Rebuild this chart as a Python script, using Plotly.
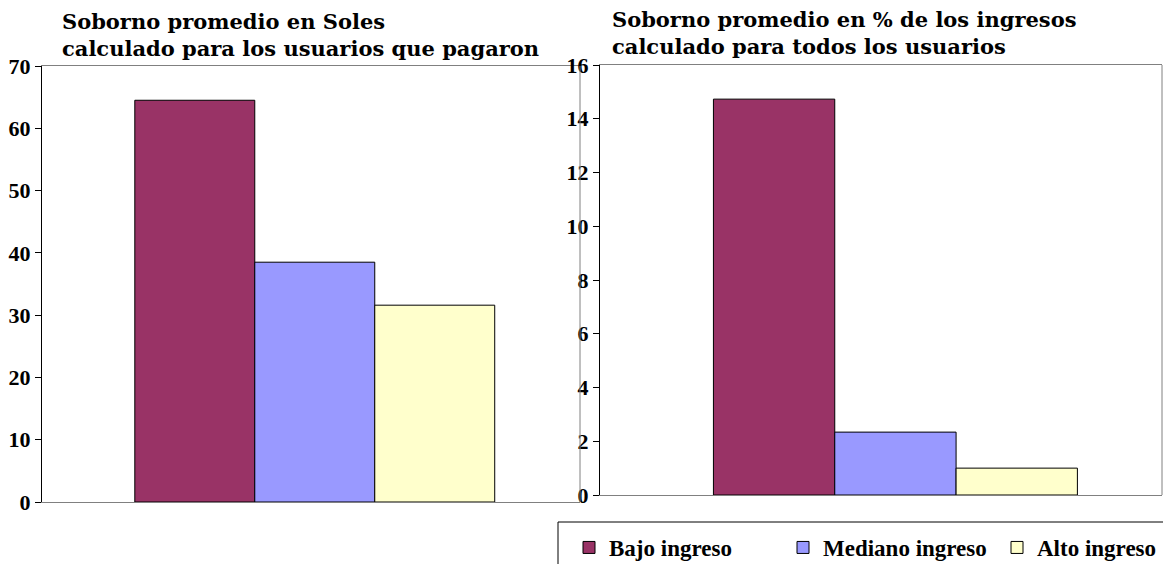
import plotly.graph_objects as go

# datos
categorias = ["Bajo ingreso", "Mediano ingreso", "Alto ingreso"]
colores = ["#993366", "#9999FF", "#FFFFCC"]
soles = [64.5, 38.5, 31.6]          # soborno promedio en soles (usuarios que pagaron)
porcentaje = [14.73, 2.34, 1.0]     # soborno promedio en % de ingresos (todos)

titulo_izq = "Soborno promedio en Soles<br>calculado para los usuarios que pagaron"
titulo_der = "Soborno promedio en % de los ingresos<br>calculado para todos los usuarios"

# la página deja 8 px de margen (body); las coordenadas de abajo son de pantalla
OFF = 8
W, H = 1171 - OFF, 564 - OFF
FONT = "Liberation Serif"
TITLE_FONT = "DejaVu Serif"

fig = go.Figure()

for nombre, color, v_s, v_p in zip(categorias, colores, soles, porcentaje):
    fig.add_trace(go.Bar(
        x=[""], y=[v_s], name=nombre, marker=dict(color=color, line=dict(color="#000000", width=1)),
        xaxis="x", yaxis="y", legendgroup=nombre, showlegend=True,
    ))
    fig.add_trace(go.Bar(
        x=[""], y=[v_p], name=nombre, marker=dict(color=color, line=dict(color="#000000", width=1)),
        xaxis="x2", yaxis="y2", legendgroup=nombre, showlegend=False,
    ))


def px_x(p):
    return (p - OFF) / W


def px_y(p):
    return (H - (p - OFF)) / H


tick_font = dict(family=FONT, size=22, color="#000000", weight="bold")

fig.update_layout(
    width=W, height=H,
    margin=dict(l=0, r=0, t=0, b=0, autoexpand=False),
    paper_bgcolor="white", plot_bgcolor="white",
    barmode="group", bargap=0.331, bargroupgap=0,
    font=dict(family=FONT, color="#000000"),
    xaxis=dict(domain=[px_x(42), px_x(580)], anchor="y", range=[-0.507, 0.493],
               showticklabels=False, showgrid=False, zeroline=False, automargin=False,
               showline=True, linecolor="#808080", linewidth=1, mirror=True, fixedrange=True),
    yaxis=dict(domain=[px_y(502), px_y(66)], anchor="x", range=[0, 70], dtick=10,
               showgrid=False, zeroline=False, showline=True, linecolor="#000000", linewidth=1,
               automargin=False,
               ticks="outside", ticklen=6, tickcolor="#000000", tickfont=tick_font),
    xaxis2=dict(domain=[px_x(600), px_x(1162)], anchor="y2", range=[-0.543, 0.49],
                showticklabels=False, showgrid=False, zeroline=False, automargin=False,
                showline=True, linecolor="#808080", linewidth=1, mirror=True, fixedrange=True),
    yaxis2=dict(domain=[px_y(495), px_y(65)], anchor="x2", range=[0, 16], dtick=2,
                showgrid=False, zeroline=False, showline=True, linecolor="#000000", linewidth=1,
                automargin=False,
                ticks="outside", ticklen=6, tickcolor="#000000", tickfont=tick_font),
    legend=dict(orientation="h", xref="container", yref="container",
                x=px_x(569), y=px_y(526), xanchor="left", yanchor="top",
                borderwidth=0, bgcolor="rgba(0,0,0,0)",
                font=dict(family=FONT, size=23, color="#000000", weight="bold"),
                entrywidth=169, entrywidthmode="pixels", itemclick=False, itemdoubleclick=False),
    showlegend=True,
)

# borde gris derecho de cada área de trazado
for xr, yr in [("x domain", "y domain"), ("x2 domain", "y2 domain")]:
    fig.add_shape(type="line", xref=xr, yref=yr, x0=1, x1=1, y0=0, y1=1,
                  line=dict(color="#808080", width=1))

# marco de la leyenda (sale del borde de la imagen)
fig.add_shape(type="rect", xref="paper", yref="paper",
              x0=px_x(558), x1=1.05, y0=-0.05, y1=px_y(522),
              line=dict(color="#000000", width=1), fillcolor="rgba(0,0,0,0)")

# títulos
fig.add_annotation(text="<b>" + titulo_izq + "</b>", xref="paper", yref="paper",
                   x=px_x(60), y=px_y(35), xanchor="left", yanchor="middle", align="left",
                   showarrow=False, font=dict(family=TITLE_FONT, size=21, color="#000000"))
fig.add_annotation(text="<b>" + titulo_der + "</b>", xref="paper", yref="paper",
                   x=px_x(610), y=px_y(33), xanchor="left", yanchor="middle", align="left",
                   showarrow=False, font=dict(family=TITLE_FONT, size=21, color="#000000"))

fig.write_html("out.html")
